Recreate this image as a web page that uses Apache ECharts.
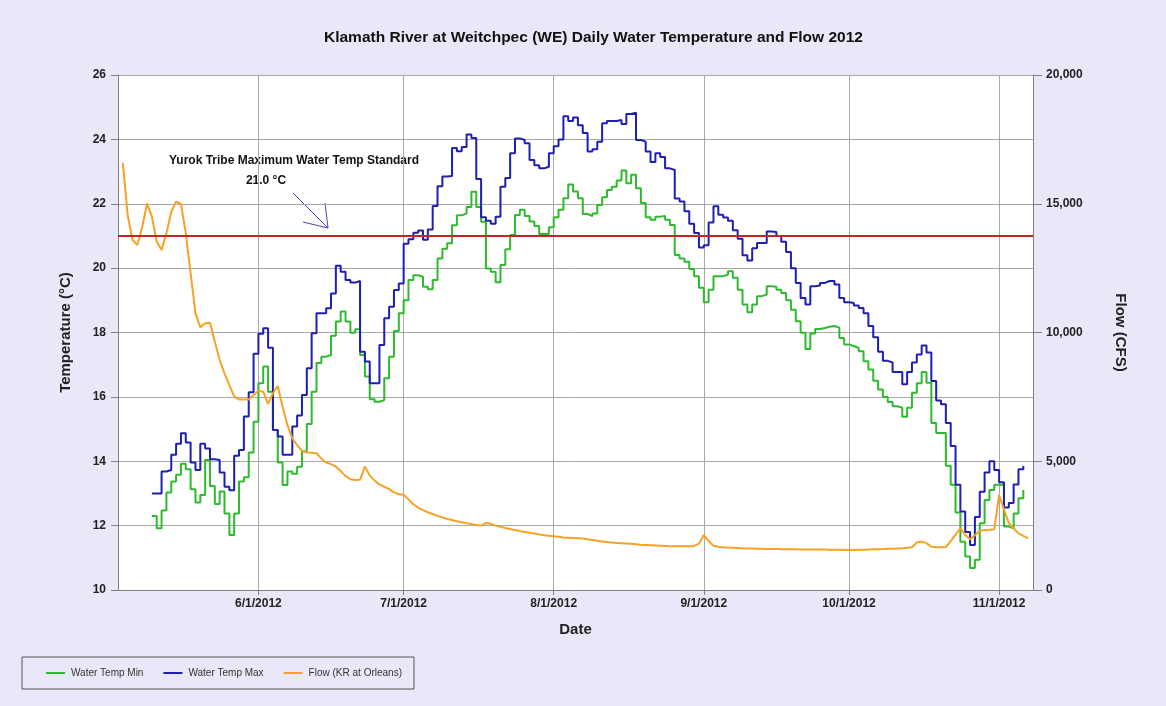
<!DOCTYPE html>
<html>
<head>
<meta charset="utf-8">
<script src="https://cdn.jsdelivr.net/npm/echarts@6/dist/echarts.min.js"></script>
<style>
  html, body { margin: 0; padding: 0; background: #E8E8F8; }
  #chart { width: 1166px; height: 706px; }
</style>
</head>
<body>
<div id="chart"></div>
<script>
// x axis runs one category per day, 5/3/2012 .. 11/8/2012
var startDate = new Date(2012, 4, 3);
var dayCount = 190;

// daily min / max water temperature (°C), first value is 5/10/2012
var minStart = 7;
var tempMin = [
    12.3, 11.92, 12.47, 13.03, 13.37, 13.58, 13.92, 13.75, 13.13, 12.72,
    12.95, 14.04, 13.23, 12.67, 13.06, 12.38, 11.71, 12.38, 13.37, 13.5,
    14.27, 15.23, 16.42, 16.94, 16.16, 14.97, 13.96, 13.26, 13.68, 13.61,
    13.83, 14.3, 15.16, 16.16, 17.05, 17.25, 17.3, 17.9, 18.34, 18.65,
    18.34, 17.99, 18.1, 17.3, 16.63, 15.93, 15.85, 15.9, 16.58, 17.25,
    18.05, 18.6, 19.0, 19.63, 19.78, 19.73, 19.42, 19.34, 19.63, 20.3,
    20.6, 20.77, 21.33, 21.64, 21.7, 21.9, 22.37, 21.9, 21.44, 19.99,
    19.89, 19.56, 20.1, 20.59, 21.03, 21.65, 21.81, 21.62, 21.45, 21.31,
    21.06, 21.06, 21.27, 21.58, 21.81, 22.17, 22.6, 22.38, 22.17, 21.68,
    21.62, 21.7, 21.96, 22.2, 22.43, 22.53, 22.72, 23.03, 22.64, 22.9,
    22.48, 22.02, 21.58, 21.5, 21.6, 21.62, 21.5, 21.34, 20.41, 20.3,
    20.2, 19.97, 19.75, 19.39, 18.94, 19.33, 19.75, 19.75, 19.8, 19.9,
    19.7, 19.33, 18.87, 18.63, 18.87, 19.13, 19.18, 19.44, 19.42, 19.33,
    19.23, 19.0, 18.71, 18.35, 17.99, 17.49, 17.97, 18.11, 18.14, 18.18,
    18.2, 18.15, 17.83, 17.63, 17.58, 17.52, 17.42, 17.11, 16.85, 16.5,
    16.23, 16.0, 15.84, 15.71, 15.66, 15.38, 15.66, 16.13, 16.42, 16.77,
    16.44, 15.19, 14.88, 14.88, 13.86, 13.27, 12.41, 11.5, 11.04, 10.68,
    10.94, 12.07, 12.8, 13.11, 13.27, 13.27, 11.97, 11.92, 12.38, 12.85,
    13.11
];

var maxStart = 7;
var tempMax = [
    13.0, 13.0, 13.68, 13.73, 14.2, 14.54, 14.87, 14.58, 13.96, 13.73,
    14.54, 14.4, 14.06, 14.04, 13.65, 13.21, 13.1, 14.17, 14.35, 15.39,
    16.14, 17.34, 17.96, 18.13, 17.53, 14.97, 14.77, 14.2, 14.2, 15.08,
    15.42, 16.06, 16.89, 17.98, 18.6, 18.6, 18.75, 19.21, 20.07, 19.89,
    19.63, 19.55, 19.6, 17.4, 17.1, 16.42, 16.42, 17.61, 18.44, 18.8,
    19.32, 19.52, 20.76, 20.9, 21.1, 21.17, 20.88, 21.2, 21.93, 22.54,
    22.85, 22.86, 23.73, 23.63, 23.76, 24.15, 24.04, 22.77, 21.58, 21.47,
    21.38, 21.6, 22.53, 22.8, 23.57, 24.03, 23.98, 23.88, 23.36, 23.2,
    23.1, 23.15, 23.57, 23.79, 24.0, 24.72, 24.57, 24.68, 24.44, 24.2,
    23.62, 23.69, 23.93, 24.5, 24.57, 24.57, 24.6, 24.48, 24.79, 24.83,
    23.98, 23.93, 23.62, 23.3, 23.57, 23.45, 23.1, 23.05, 22.16, 22.07,
    21.77, 21.38, 21.09, 20.64, 20.71, 21.42, 21.92, 21.66, 21.57, 21.47,
    21.18, 20.91, 20.4, 20.24, 20.62, 20.78, 20.78, 21.14, 21.12, 21.0,
    20.82, 20.5, 20.0, 19.54, 19.07, 18.87, 19.44, 19.46, 19.54, 19.6,
    19.6, 19.49, 19.07, 18.94, 18.92, 18.84, 18.76, 18.6, 18.2, 17.85,
    17.4, 17.12, 17.07, 16.77, 16.77, 16.39, 16.77, 17.07, 17.32, 17.6,
    17.38, 16.49, 15.89, 15.77, 15.19, 14.47, 13.27, 12.44, 11.8, 11.4,
    12.27, 13.05, 13.65, 14.0, 13.73, 13.35, 12.56, 12.7, 13.28, 13.75,
    13.85
];

// daily flow, Klamath River at Orleans (cfs), first value is 5/4/2012
var flowStart = 1;
var flow = [
    16590, 14560, 13590, 13400, 14100, 15015, 14500, 13525, 13200, 13850,
    14690, 15080, 14990, 13860, 12300, 10750, 10200, 10360, 10380, 9640,
    8930, 8410, 7960, 7510, 7400, 7400, 7400, 7570, 7740, 7700,
    7230, 7640, 7920, 7120, 6400, 5890, 5630, 5400, 5340, 5330,
    5310, 5110, 4950, 4890, 4790, 4620, 4420, 4300, 4270, 4280,
    4800, 4450, 4250, 4100, 4010, 3920, 3790, 3720, 3700, 3520,
    3330, 3200, 3100, 3020, 2950, 2880, 2820, 2760, 2720, 2670,
    2630, 2590, 2560, 2520, 2500, 2600, 2570, 2500, 2460, 2410,
    2370, 2330, 2290, 2250, 2220, 2190, 2160, 2130, 2110, 2090,
    2070, 2040, 2030, 2020, 2010, 2000, 1970, 1940, 1910, 1880,
    1860, 1840, 1830, 1820, 1810, 1800, 1780, 1760, 1750, 1740,
    1730, 1720, 1710, 1700, 1700, 1700, 1700, 1700, 1710, 1800,
    2136, 1900, 1720, 1680, 1660, 1650, 1640, 1630, 1620, 1615,
    1610, 1605, 1600, 1595, 1590, 1590, 1585, 1580, 1580, 1578,
    1575, 1575, 1572, 1570, 1570, 1568, 1565, 1562, 1560, 1558,
    1555, 1553, 1560, 1565, 1575, 1580, 1585, 1590, 1600, 1605,
    1615, 1625, 1640, 1660, 1850, 1880, 1820, 1680, 1660, 1660,
    1670, 1900, 2150, 2394, 2136, 1968, 2130, 2300, 2330, 2340,
    2360, 3689, 3132, 2600, 2400, 2200, 2100, 2006
];

var standardTemp = 21.0;

var dates = [];
for (var i = 0; i < dayCount; i++) {
    var d = new Date(startDate.getTime());
    d.setDate(startDate.getDate() + i);
    dates.push((d.getMonth() + 1) + '/' + d.getDate() + '/' + d.getFullYear());
}

function toSeries(values, offset) {
    return values.map(function (v, i) {
        return [dates[i + offset], v];
    });
}

function isMonthStart(index, value) {
    return /^\d+\/1\/\d+$/.test(value);
}

function withCommas(v) {
    return String(v).replace(/\B(?=(\d{3})+(?!\d))/g, ',');
}

var font = '"Liberation Sans", Arial, sans-serif';
var lineIcon = 'rect';

var option = {
    backgroundColor: '#E8E8F8',
    textStyle: { fontFamily: font },
    animation: false,
    title: {
        text: 'Klamath River at Weitchpec (WE) Daily Water Temperature and Flow 2012',
        left: 319,
        top: 25,
        textStyle: { fontSize: 15.5, fontWeight: 'bold', color: '#111', fontFamily: font }
    },
    legend: {
        left: 22,
        top: 657,
        orient: 'horizontal',
        padding: [11, 12, 11, 24],
        itemGap: 20,
        itemWidth: 19,
        itemHeight: 2,
        borderColor: '#555',
        borderWidth: 1,
        textStyle: { fontSize: 10, color: '#333', fontFamily: font, padding: [0, 0, 0, 1] },
        data: [
            { name: 'Water Temp Min', icon: lineIcon },
            { name: 'Water Temp Max', icon: lineIcon },
            { name: 'Flow (KR at Orleans)', icon: lineIcon }
        ]
    },
    grid: {
        left: 118,
        right: 133,
        top: 75,
        bottom: 116,
        show: true,
        backgroundColor: '#ffffff',
        borderWidth: 0
    },
    xAxis: {
        type: 'category',
        data: dates,
        boundaryGap: false,
        name: 'Date',
        nameLocation: 'middle',
        nameGap: 32,
        nameTextStyle: { fontSize: 15, fontWeight: 'bold', color: '#222' },
        axisLine: { lineStyle: { color: '#808080', width: 1 } },
        axisTick: { show: true, length: 5, interval: isMonthStart, lineStyle: { color: '#808080' } },
        axisLabel: {
            interval: isMonthStart,
            fontSize: 12,
            fontWeight: 'bold',
            color: '#222',
            margin: 8
        },
        splitLine: { show: true, interval: isMonthStart, lineStyle: { color: '#A8A8A8', width: 1 } }
    },
    yAxis: [{
        type: 'value',
        min: 10,
        max: 26,
        interval: 2,
        name: 'Temperature (°C)',
        nameLocation: 'middle',
        nameGap: 45,
        nameTextStyle: { fontSize: 15, fontWeight: 'bold', color: '#222' },
        axisLine: { show: true, lineStyle: { color: '#808080' } },
        axisTick: { show: true, length: 7, lineStyle: { color: '#808080' } },
        axisLabel: { fontSize: 12, fontWeight: 'bold', color: '#222', margin: 12 },
        splitLine: { show: true, lineStyle: { color: '#A8A8A8', width: 1 } }
    }, {
        type: 'value',
        min: 0,
        max: 20000,
        interval: 5000,
        position: 'right',
        name: 'Flow (CFS)',
        nameLocation: 'middle',
        nameGap: 80,
        nameRotate: -90,
        nameTextStyle: { fontSize: 15, fontWeight: 'bold', color: '#222' },
        axisLine: { show: true, lineStyle: { color: '#808080' } },
        axisTick: { show: true, length: 9, lineStyle: { color: '#808080' } },
        axisLabel: { fontSize: 12, fontWeight: 'bold', color: '#222', margin: 13, formatter: withCommas },
        splitLine: { show: false }
    }],
    series: [{
        name: 'Water Temp Min',
        type: 'line',
        step: 'end',
        yAxisIndex: 0,
        symbol: 'none',
        color: '#2DBA2D',
        lineStyle: { width: 2 },
        data: toSeries(tempMin, minStart)
    }, {
        name: 'Water Temp Max',
        type: 'line',
        step: 'end',
        yAxisIndex: 0,
        symbol: 'none',
        color: '#1E1EB4',
        lineStyle: { width: 2 },
        data: toSeries(tempMax, maxStart),
        markLine: {
            silent: true,
            symbol: 'none',
            label: { show: false },
            lineStyle: { color: '#C02828', width: 2, type: 'solid' },
            data: [{ yAxis: standardTemp }]
        }
    }, {
        name: 'Flow (KR at Orleans)',
        type: 'line',
        yAxisIndex: 1,
        symbol: 'none',
        color: '#F5A225',
        lineStyle: { width: 2 },
        data: toSeries(flow, flowStart)
    }],
    graphic: [{
        type: 'text',
        style: {
            text: 'Yurok Tribe Maximum Water Temp Standard',
            x: 294, y: 161,
            textAlign: 'center', textVerticalAlign: 'middle',
            font: 'bold 12px ' + font,
            fill: '#111'
        }
    }, {
        type: 'text',
        style: {
            text: standardTemp.toFixed(1) + ' °C',
            x: 266, y: 181,
            textAlign: 'center', textVerticalAlign: 'middle',
            font: 'bold 12px ' + font,
            fill: '#111'
        }
    }, {
        type: 'polyline',
        shape: { points: [[293, 193], [328, 228]] },
        style: { stroke: '#4646B4', lineWidth: 1, fill: null }
    }, {
        type: 'polyline',
        shape: { points: [[325, 203], [328, 228], [303, 222]] },
        style: { stroke: '#4646B4', lineWidth: 1, fill: null }
    }]
};

var myChart = echarts.init(document.getElementById('chart'));
myChart.setOption(option);

window.addEventListener('resize', function () {
    myChart.resize();
});
</script>
</body>
</html>
